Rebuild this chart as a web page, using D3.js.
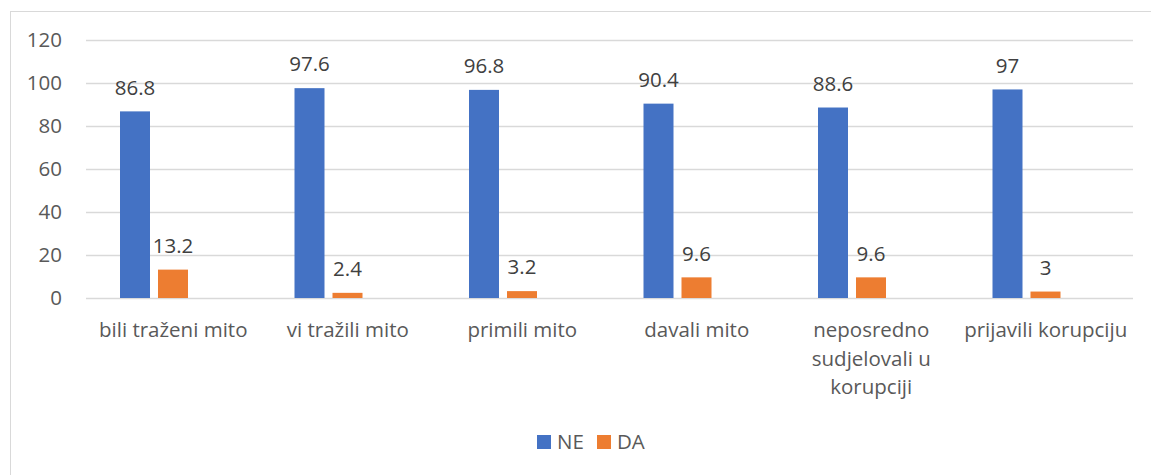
<!DOCTYPE html>
<html>
<head>
<meta charset="utf-8">
<script src="https://cdn.jsdelivr.net/npm/d3@7"></script>
<style>
  body { margin: 0; background: #fff; }
  text { font-family: "Open Sans", sans-serif; fill: #595959; }
</style>
</head>
<body>
<div id="chart"></div>
<script>
// data
const categories = ["bili traženi mito", "vi tražili mito", "primili mito", "davali mito",
  "neposredno sudjelovali u korupciji", "prijavili korupciju"]
const seriesNames = ["NE", "DA"]
const neValues = [86.8, 97.6, 96.8, 90.4, 88.6, 97]
const daValues = [13.2, 2.4, 3.2, 9.6, 9.6, 3]
const yTicks = [0, 20, 40, 60, 80, 100, 120]

const colors = { NE: "#4472C4", DA: "#ED7D31" }

let width = 1151, height = 475
let plot = { left: 86, right: 1133, top: 40, bottom: 298 }
let fontSize = 20.5

const svg = d3.select("#chart").append("svg")
  .attr("width", width)
  .attr("height", height)

// chart frame (runs off the right and bottom edge like the original)
svg.append("rect")
  .attr("x", 10.5).attr("y", 11.5)
  .attr("width", width).attr("height", height)
  .attr("fill", "#fff")
  .attr("stroke", "#d9d9d9")

let y = d3.scaleLinear().domain([0, 120]).range([plot.bottom, plot.top])

let x0 = d3.scaleBand()
  .domain(categories)
  .range([plot.left, plot.right])

// excel leaves room for a third (empty) slot in each cluster
let x1 = d3.scaleBand()
  .domain(["NE", "DA", "_"])
  .range([34, 140])
  .paddingInner(8 / 38)

let yAxis = d3.axisLeft(y)
  .tickValues(yTicks)
  .tickSize(-(plot.right - plot.left))
  .tickPadding(24)

let ga = svg.append("g")
  .attr("transform", "translate(" + plot.left + ",0)")
  .call(yAxis)
ga.select(".domain").remove()
ga.selectAll(".tick line").attr("stroke", "#d9d9d9").attr("stroke-width", 1.3)
ga.selectAll(".tick text").attr("font-size", fontSize).attr("fill", "#595959")
  .style("font-family", "'Open Sans', sans-serif")

const rows = categories.map((c, i) => ({ cat: c, NE: neValues[i], DA: daValues[i] }))

let groups = svg.selectAll("g.group")
  .data(rows)
  .enter()
  .append("g")
  .attr("class", "group")
  .attr("transform", d => "translate(" + x0(d.cat) + ",0)")

seriesNames.forEach(s => {
  groups.append("rect")
    .attr("x", x1(s))
    .attr("y", d => y(d[s]))
    .attr("width", x1.bandwidth())
    .attr("height", d => y(0) - y(d[s]))
    .attr("fill", colors[s])

  groups.append("text")
    .attr("x", x1(s) + x1.bandwidth() / 2)
    .attr("y", d => y(d[s]) - 24)
    .attr("dy", "0.35em")
    .attr("text-anchor", "middle")
    .attr("font-size", fontSize)
    .style("fill", "#404040")
    .text(d => d[s])
})

// category labels, wrapped like excel does
function wrap(words, maxW, size) {
  let lines = [], cur = ""
  let probe = svg.append("text").attr("font-size", size)
  words.split(" ").forEach(w => {
    let t = cur ? cur + " " + w : w
    probe.text(t)
    if (probe.node().getComputedTextLength() > maxW && cur) {
      lines.push(cur)
      cur = w
    } else cur = t
  })
  lines.push(cur)
  probe.remove()
  return lines
}

groups.each(function (d) {
  let lines = wrap(d.cat, 168, fontSize)
  let t = d3.select(this).append("text")
    .attr("text-anchor", "middle")
    .attr("font-size", fontSize)
  lines.forEach((l, i) => {
    t.append("tspan")
      .attr("x", x0.bandwidth() / 2)
      .attr("y", plot.bottom + 32 + i * 28.5)
      .attr("dy", "0.35em")
      .text(l)
  })
})

// legend
let legend = svg.append("g").attr("transform", "translate(537,442)")
let lx = 0
seriesNames.forEach(s => {
  let g = legend.append("g").attr("transform", "translate(" + lx + ",0)")
  g.append("rect").attr("x", 0).attr("y", -7).attr("width", 14).attr("height", 14)
    .attr("fill", colors[s])
  g.append("text").attr("x", 20).attr("dy", "0.35em").attr("font-size", fontSize).text(s)
  lx += 60
})
</script>
</body>
</html>
